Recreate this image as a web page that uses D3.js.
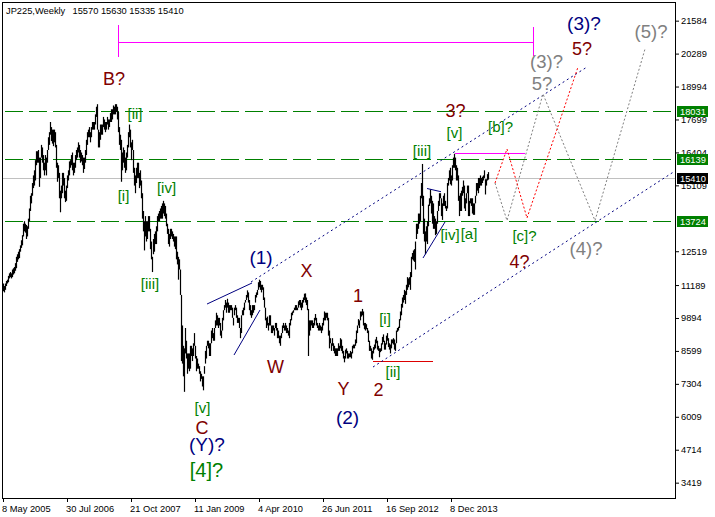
<!DOCTYPE html>
<html><head><meta charset="utf-8">
<script src="https://cdn.jsdelivr.net/npm/d3@7"></script>
<style>body{margin:0;background:#fff}svg{display:block}text{font-family:"Liberation Sans",Arial,sans-serif}</style>
</head><body><svg id="c" width="715" height="517"></svg>
<script>
// ---- weekly bars (week 0 = 8 May 2005) ----
const weekLow = [
// 2005
10950,10900,11000,11150,11250,11300,11450,11500,11450,11500,11600,11650,11750,11850,12100,12200,12250,
12500,12650,12750,13100,13300,13250,13000,13100,13400,13700,14100,14400,14700,15000,15100,15300,15900,
// 2006
16000,16000,15050,15400,16200,16000,15700,15500,15700,15500,16000,16500,16700,17100,16850,16750,16650,16800,
16600,15800,15250,15400,14600,14050,14600,14800,15100,14600,14450,14500,15000,15300,15500,15800,15900,
15700,15500,15600,15800,16100,16200,16400,16200,16000,16050,15900,15600,15750,16000,16300,16700,17000,17000,
// 2007
16800,17000,17300,17300,17300,17500,17800,17300,16600,16600,16900,17100,17100,17400,17300,17200,17300,
17500,17300,17400,17600,17600,17700,17900,17900,17900,18000,17700,17200,16700,16500,15250,15700,16000,
15800,15600,15700,16200,16600,17000,16600,16100,16500,15600,15100,14800,15200,15400,15400,15000,15100,14600,
// 2008
13800,13300,12550,13100,12900,13000,13300,13300,12600,12200,11700,12400,12500,12800,12800,13300,13700,
13700,13800,13800,13800,14000,13900,13800,13500,13200,12800,12700,13000,13100,13000,12900,12700,12600,12200,
12000,11400,11800,10800,8200,8100,7600,6990,8500,8300,7700,7900,7800,7900,8400,8200,8400,
// 2009
8800,8300,7800,7900,7900,7700,7400,7500,7200,7050,7700,8100,8300,8800,8700,8400,8400,8900,9100,9000,9000,9500,
9600,9600,9500,9600,9200,9100,9400,9800,10200,10300,10100,10300,10100,10100,10200,10200,9900,9600,10000,10200,
9900,9700,9700,9500,9100,9300,10000,10000,10200,10500,
// 2010
10600,10700,10500,10200,10000, 9900,10000,10100,10200, 10500,10700,10800,11000, 11100,11000,10900,11000,
10600,10300,9800,9500,9600, 9400,9600,9600,9300, 9300,9400,9200,9500, 9400,9100,9100,8900,8800,
9100,9300,9500,9400, 9400,9300,9300,9200,9100, 9600,9800,10000,10100, 10200,10200,10200,10200,
// 2011
10300,10400,10300,10200,10300, 10500,10600,10500,10400, 10200,8400,9200,9400, 9600,9500,9500,9600,
9800,9600,9500,9400,9400, 9400,9300,9400,9600, 9800,9800,9900,9800,9200, 8700,8900,8600,8800,
8600,8500,8400,8400, 8400,8600,8600,8700,8600, 8500,8300,8150,8300, 8500,8300,8300,8350,
// 2012
8350,8300,8500,8700,8700, 8800,8900,9300,9600, 9500,9800,9950,10000, 9600,9450,9400,9450,9300,
8950,8600,8600,8300, 8250,8500,8650,8700, 8900,8650,8600,8350,8550, 8600,8850,8950,8650,
8650,8850,9000,8750,8650, 8500,8700,8900,8850, 8650,8600,8900,9350, 9400,9500,9800,10000,10300,
// 2013
10500,10600,10450,10800, 11000,11100,11200,11000, 11500,12200,12150,12100,11800, 13000,13200,13400,13600,
13700,14600,14300,13200, 12900,12400,12900,12800,13500, 14300,14400,14000,13600, 13400,13400,13150,13200,
13600,14100,14300,14600,13900, 13750,14300,14300,14200, 14100,14200,15100,15300, 15150,15100,15300,15800,15800,
// 2014
15700,15300,15300,14500, 13900,14100,14100,14700, 14800,14200,14100,14400,14800, 13900,13900,14400,14300,
14000,13950,13950,14400, 14700,14900,14800,15000,15100, 15100,15200,15300,15400, 14750,15100,15300,15335
];
const weekHigh = [
// 2005
11250,11150,11250,11350,11400,11550,11650,11700,11650,11800,11850,11900,12050,12300,12400,12500,12600,
12750,12950,13150,13600,13700,13600,13550,13500,13800,14200,14700,14800,15200,15500,15700,16100,16450,
// 2006
16450,16500,16200,16200,16700,16600,16300,16000,16300,16200,16500,17000,17200,17600,17400,17300,17300,17300,
17200,16700,16000,15900,15600,14900,15100,15600,15600,15400,14900,15100,15500,15700,16050,16100,16300,
16400,16000,16000,16300,16500,16600,16800,16700,16500,16400,16300,16200,16200,16500,16900,17200,17300,17400,
// 2007
17200,17400,17600,17600,17600,17900,18200,18300,17300,17200,17500,17500,17500,17800,17700,17600,17600,
17800,17700,17700,17950,18100,18100,18250,18200,18300,18300,18200,18000,17400,17100,16900,16400,16600,
16500,16200,16400,16700,17200,17500,17300,16800,16900,16500,15800,15500,15800,16000,16000,15600,15700,15300,
// 2008
14800,14100,13700,13900,13700,13700,13900,13900,13400,12900,12300,13000,13200,13300,13500,13900,14000,
14100,14200,14300,14400,14500,14400,14300,14000,13600,13400,13200,13400,13400,13300,13200,13100,13100,13100,
12500,12300,12200,11800,10800,9600,8800,8700,9500,9000,8500,8500,8500,8800,8800,8700,8900,
// 2009
9300,8800,8400,8300,8100,8000,7800,7700,7600,7600,8000,8600,8800,9000,9000,8900,8900,9400,9500,9300,9500,9800,
10100,10000,9900,9900,9700,9400,9900,10200,10400,10600,10500,10650,10500,10400,10400,10400,10300,9900,10300,10400,
10300,10000,9900,9900,9500,10000,10200,10300,10500,10600,
// 2010
10800,10980,10900,10600,10400, 10200,10400,10400,10400, 10800,10900,11000,11300, 11400,11350,11200,11200,
11100,10700,10300,9900,9950, 9700,10000,10000,9600, 9600,9600,9500,9700, 9700,9500,9400,9200,9200,
9300,9600,9700,9600, 9700,9600,9500,9400,9700, 9850,10100,10150,10200, 10300,10400,10400,10300,
// 2011
10550,10600,10600,10500,10600, 10700,10850,10860,10700, 10600,10250,9800,9800, 9800,9800,9700,9900,
10050,9900,9700,9600,9700, 9600,9550,9700,9900, 10150,10100,10100,10100,9900, 9400,9100,8900,9100,
8900,8800,8700,8700, 8700,8900,8800,9100,9050, 8800,8600,8400,8650, 8700,8600,8500,8500,
// 2012
8600,8550,8800,8850,8850, 9050,9400,9600,9850, 9800,10150,10150,10250, 10150,9700,9700,9650,9500,
9400,9000,8800,8700, 8600,8750,8850,9050, 9150,9000,8800,8700,8700, 8900,9150,9250,9000,
8900,9200,9300,9100,8900, 8850,9050,9050,9100, 9050,8900,9400,9500, 9550,9850,10150,10450,10700,
// 2013
10800,11000,10950,11200, 11500,11450,11500,11700, 12300,12450,12550,12600,12900, 13600,13600,14000,14000,
14700,15200,15950,14700, 13800,13300,13500,13700,14350, 14600,14950,14700,14500, 14400,13900,13800,13700,
14100,14500,14800,14800,14600, 14400,14700,14800,14500, 14300,15200,15400,15700, 15800,15500,15900,16200,16350,
// 2014
16200,15900,15800,15500, 14700,14800,14900,15050, 15300,15100,14600,14800,15100, 15100,14500,14600,14600,
14600,14400,14400,14700, 15200,15200,15400,15400,15500, 15400,15450,15500,15700, 15350,15350,15550,15630
];
const lastBar = [15570, 15630, 15335, 15410]; // O H L C
const symbolTitle = "JP225,Weekly";

const yTickValues = [21584,20289,18994,17699,16404,15109,12519,11189,9894,8599,7304,6009,4714,3419];
const xTickWeeks = [0,64,128,192,256,320,384,448];
const xTickLabels = ["8 May 2005","30 Jul 2006","21 Oct 2007","11 Jan 2009","4 Apr 2010","26 Jun 2011","16 Sep 2012","8 Dec 2013"];
const levelPrices = [18031,16139,13724];
const currentPrice = 15410;

// wave labels: text, week, price, degree
const waveLabels = [
 ["B?",111,19054,"minor"],["[ii]",132,17718,"minute"],["[i]",120.5,14493,"minute"],
 ["[iv]",163.5,14808,"minute"],["[iii]",147,11033,"minute"],["[v]",199.5,6158,"minute"],
 ["C",199,5332,"minor"],["(Y)?",204,4663,"intermediate"],["[4]?",203.5,3641,"primary"],
 ["(1)",258,12016,"intermediate"],["X",303.5,11505,"minor"],["W",272.5,7730,"minor"],
 ["Y",340.5,6865,"minor"],["1",355,10522,"minor"],["2",375.5,6826,"minor"],
 ["(2)",344.5,5725,"intermediate"],["[i]",382,9657,"minute"],["[ii]",390,7573,"minute"],
 ["[iii]",419,16263,"minute"],["[v]",451.5,16971,"minute"],["3?",452.5,17796,"minor"],
 ["[iv]",447,12960,"minute"],["[a]",466,12999,"minute"],["[b]?",497.5,17206,"minute"],
 ["[c]?",521.5,12921,"minute"],["4?",516.5,11859,"minor"],["(4)?",583,12370,"alt"],
 ["(3)?",543.5,19723,"alt"],["5?",539,18858,"alt"],["(3)?",581,21217,"intermediate"],
 ["5?",579,20234,"minor"],["(5)?",648,20903,"alt"]
];
// trend lines [week, price]
const channelUpper = [[248,11308],[584,19762]];
const channelLower = [[370,7966],[672,15673]];
const wedgeUpper = [[204,10443],[249,11269]];
const wedgeLower = [[231,8438],[257,10207]];
const triangleUpper = [[424,14985],[438,14859]];
const triangleLower = [[420,12252],[442,13668]];
const altProjection = [[492,15201],[504,13724],[540,18701],[592,13724],[642,20470]];
const mainProjection = [[492,15201],[504,16538],[524,13825],[575,19762]];
const cycleSpan = [[115,21400],[115,20170],[115,20733],[530,20733],[530,21350],[530,20190]];
const bLevelLine = [[451,16369],[521,16369]];
const wave2Line = [[369,8202],[429,8202]];

const degreeStyle = {
  minute:{fill:"#008000",size:15},
  minor:{fill:"#800000",size:18},
  intermediate:{fill:"#000080",size:19},
  primary:{fill:"#008000",size:20},
  alt:{fill:"#808080",size:18.5}
};

const svg = d3.select("#c");
svg.append("rect").attr("width",715).attr("height",517).attr("fill","#fff");
const x = d3.scaleLinear().domain([0,672]).range([3,675]);
const y = d3.scaleLinear().domain([2816,22318]).range([498,2]);
const py = v => Math.round(y(v)) + 0.5;

svg.append("defs").append("clipPath").attr("id","pc").append("rect")
  .attr("x",3).attr("y",3).attr("width",672).attr("height",495);
const g = svg.append("g").attr("clip-path","url(#pc)");
const line = d3.line().x(d=>x(d[0])).y(d=>y(d[1]));

// current price line
g.append("line").attr("x1",3).attr("x2",675)
  .attr("y1",py(currentPrice)).attr("y2",py(currentPrice))
  .attr("stroke","#c0c0c0").attr("shape-rendering","crispEdges");
// green dashed levels
g.selectAll(".lvl").data(levelPrices).join("line").attr("class","lvl")
  .attr("x1",5).attr("x2",675)
  .attr("y1",d=>py(d)).attr("y2",d=>py(d))
  .attr("stroke","#008000").attr("stroke-width",1).attr("stroke-dasharray","18,6")
  .attr("shape-rendering","crispEdges");

// magenta cycle marker
const mag = g.append("g").attr("stroke","#ff00ff").attr("fill","none").attr("shape-rendering","crispEdges");
const px = w => Math.round(x(w)) + 0.5;
mag.append("line").attr("x1",px(cycleSpan[0][0])).attr("x2",px(cycleSpan[1][0])).attr("y1",y(cycleSpan[0][1])).attr("y2",y(cycleSpan[1][1]));
mag.append("line").attr("x1",px(cycleSpan[2][0])).attr("x2",px(cycleSpan[3][0])).attr("y1",py(cycleSpan[2][1])).attr("y2",py(cycleSpan[3][1]));
mag.append("line").attr("x1",px(cycleSpan[4][0])).attr("x2",px(cycleSpan[5][0])).attr("y1",y(cycleSpan[4][1])).attr("y2",y(cycleSpan[5][1]));
mag.append("line").attr("x1",px(bLevelLine[0][0])).attr("x2",px(bLevelLine[1][0])).attr("y1",py(bLevelLine[0][1])).attr("y2",py(bLevelLine[1][1]));

// bars
g.append("g").selectAll("line").data(weekLow).join("line")
  .attr("x1",(d,i)=>Math.round(x(i))+0.5).attr("x2",(d,i)=>Math.round(x(i))+0.5)
  .attr("y1",(d,i)=>y(weekHigh[i])).attr("y2",d=>y(d))
  .attr("stroke","#000").attr("stroke-width",1.2);

// red line at wave 2
g.append("line").attr("x1",px(wave2Line[0][0])).attr("x2",px(wave2Line[1][0]))
  .attr("y1",py(wave2Line[0][1])).attr("y2",py(wave2Line[1][1]))
  .attr("stroke","#dd0000").attr("shape-rendering","crispEdges");

// navy lines
[wedgeUpper,wedgeLower,triangleUpper,triangleLower].forEach(p=>
  g.append("path").attr("d",line(p)).attr("stroke","#000080").attr("fill","none"));
[channelUpper,channelLower].forEach(p=>
  g.append("path").attr("d",line(p)).attr("stroke","#000080").attr("fill","none").attr("stroke-dasharray","2,3"));
// projections
g.append("path").attr("d",line(altProjection)).attr("stroke","#808080").attr("fill","none").attr("stroke-dasharray","2,2");
g.append("path").attr("d",line(mainProjection)).attr("stroke","#ff0000").attr("fill","none").attr("stroke-dasharray","2,2");

// wave labels
g.selectAll(".wl").data(waveLabels).join("text").attr("class","wl")
  .attr("x",d=>x(d[1])).attr("y",d=>y(d[2]))
  .attr("text-anchor","middle")
  .attr("fill",d=>degreeStyle[d[3]].fill)
  .attr("font-size",d=>degreeStyle[d[3]].size+"px")
  .text(d=>d[0]);

// frame
svg.append("rect").attr("x",2.5).attr("y",2.5).attr("width",673).attr("height",496)
  .attr("fill","none").attr("stroke","#000");

// axes
const yAxis = d3.axisRight(y).tickValues(yTickValues).tickSize(4).tickPadding(2).tickFormat(d3.format("d"));
const ya = svg.append("g").attr("transform","translate(675,0)").call(yAxis);
ya.select(".domain").remove();
ya.selectAll("text").attr("font-family","Liberation Sans, Arial, sans-serif").attr("font-size","9.3px").attr("fill","#000");

const xAxis = d3.axisBottom(x).tickValues(xTickWeeks).tickSize(4).tickPadding(3)
  .tickFormat((d,i)=>xTickLabels[i]);
const xa = svg.append("g").attr("transform","translate(0,498)").call(xAxis);
xa.select(".domain").remove();
xa.selectAll("text").attr("font-family","Liberation Sans, Arial, sans-serif").attr("font-size","9.3px")
  .attr("fill","#000").attr("text-anchor","start").attr("x",-1.5);

// price boxes
const boxes = levelPrices.map(v=>({v,fill:"#008000"})).concat([{v:currentPrice,fill:"#000"}]);
const bg = svg.append("g");
bg.selectAll("rect").data(boxes).join("rect")
  .attr("x",677).attr("y",d=>Math.round(y(d.v))-5).attr("width",31).attr("height",11).attr("fill",d=>d.fill);
bg.selectAll("text").data(boxes).join("text")
  .attr("x",680).attr("y",d=>Math.round(y(d.v))+4)
  .attr("fill","#fff").attr("font-size","9.3px").text(d=>d.v);

// header
svg.append("text").attr("x",6).attr("y",14).attr("font-size","9.3px").attr("fill","#000").text(symbolTitle);
svg.append("text").attr("x",72.5).attr("y",14).attr("font-size","9.3px").attr("fill","#000").text(lastBar.join(" "));
</script></body></html>
